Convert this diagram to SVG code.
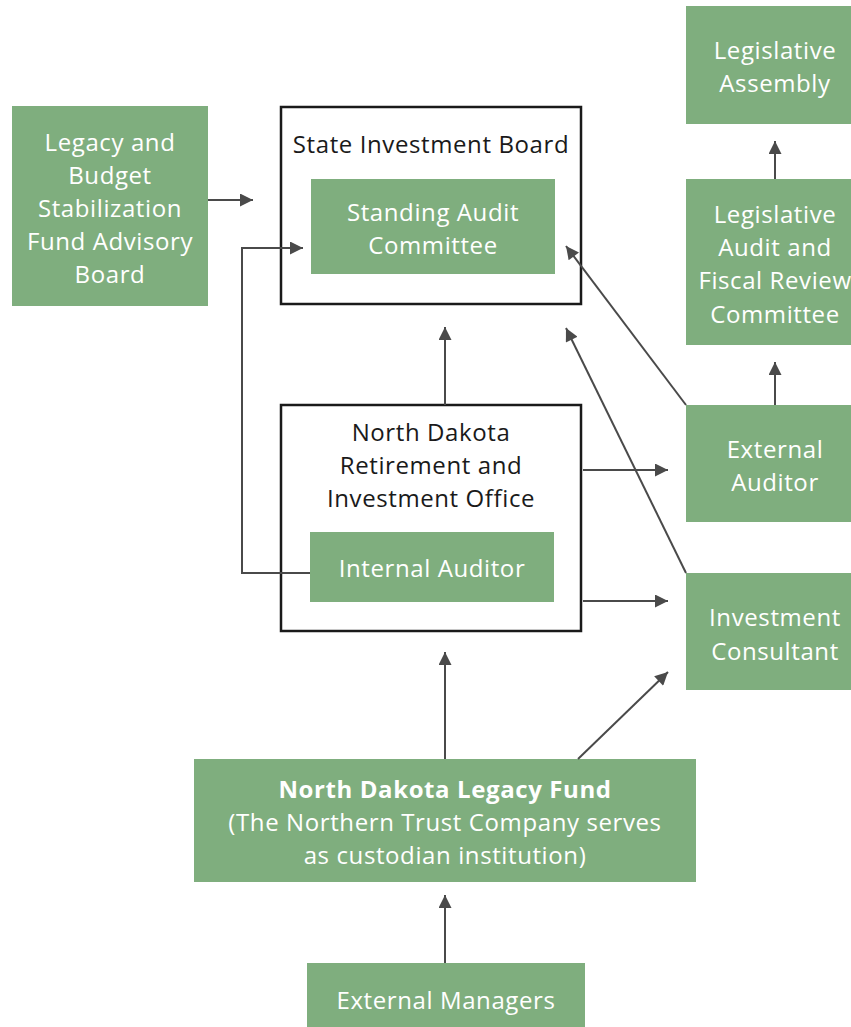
<svg xmlns="http://www.w3.org/2000/svg" width="851" height="1027" viewBox="0 0 851 1027">
<style>
.g{fill:#7fae7e}
.f{fill:#fff;stroke:#1a1a1a;stroke-width:2.5}
.t{font-family:"Open Sans","Noto Sans",sans-serif;font-size:24px;letter-spacing:0.6px;text-anchor:middle}
.w{fill:#fff}
.k{fill:#1a1a1a}
.c{fill:none;stroke:#4a4a4a;stroke-width:2;marker-end:url(#a)}
</style>
<defs>
<marker id="a" viewBox="0 0 10 10" refX="10" refY="5" markerWidth="7.5" markerHeight="6.5" markerUnits="strokeWidth" orient="auto">
<path d="M0,0 L10,5 L0,10 z" fill="#4a4a4a"/>
</marker>
</defs>
<g id="lbsfab">
<rect class="g" x="12" y="106" width="196" height="200"/>
<text class="t w" x="110"><tspan x="110" y="151">Legacy and</tspan><tspan x="110" y="184">Budget</tspan><tspan x="110" y="217">Stabilization</tspan><tspan x="110" y="250">Fund Advisory</tspan><tspan x="110" y="283">Board</tspan></text>
</g>
<g id="sib">
<rect class="f" x="281" y="107" width="300" height="197"/>
<text class="t k" x="431" y="153">State Investment Board</text>
</g>
<g id="sac">
<rect class="g" x="311" y="179" width="244" height="95"/>
<text class="t w"><tspan x="433" y="221">Standing Audit</tspan><tspan x="433" y="254">Committee</tspan></text>
</g>
<g id="la">
<rect class="g" x="686" y="6" width="165" height="118"/>
<text class="t w"><tspan x="775" y="59">Legislative</tspan><tspan x="775" y="92">Assembly</tspan></text>
</g>
<g id="lafrc">
<rect class="g" x="686" y="179" width="165" height="166"/>
<text class="t w"><tspan x="775" y="223">Legislative</tspan><tspan x="775" y="256">Audit and</tspan><tspan x="775" y="289">Fiscal Review</tspan><tspan x="775" y="323">Committee</tspan></text>
</g>
<g id="ea">
<rect class="g" x="686" y="405" width="165" height="117"/>
<text class="t w"><tspan x="775" y="458">External</tspan><tspan x="775" y="491">Auditor</tspan></text>
</g>
<g id="ic">
<rect class="g" x="686" y="573" width="165" height="117"/>
<text class="t w"><tspan x="775" y="626">Investment</tspan><tspan x="775" y="660">Consultant</tspan></text>
</g>
<g id="ndrio">
<rect class="f" x="281" y="405" width="300" height="226"/>
<text class="t k"><tspan x="431" y="441">North Dakota</tspan><tspan x="431" y="474">Retirement and</tspan><tspan x="431" y="507">Investment Office</tspan></text>
</g>
<g id="ia">
<rect class="g" x="310" y="532" width="244" height="70"/>
<text class="t w" x="432" y="577">Internal Auditor</text>
</g>
<g id="ndlf">
<rect class="g" x="194" y="759" width="502" height="123"/>
<text class="t w"><tspan x="445" y="798" font-weight="bold">North Dakota Legacy Fund</tspan><tspan x="445" y="831">(The Northern Trust Company serves</tspan><tspan x="445" y="864">as custodian institution)</tspan></text>
</g>
<g id="em">
<rect class="g" x="307" y="963" width="278" height="64"/>
<text class="t w" x="446" y="1009">External Managers</text>
</g>
<g id="connectors">
<path class="c" d="M208,200 H253"/>
<path class="c" d="M310,573 H242 V248 H303"/>
<path class="c" d="M445,405 V327"/>
<path class="c" d="M583,470 H668"/>
<path class="c" d="M583,601 H668"/>
<path class="c" d="M686,405 L566,246"/>
<path class="c" d="M686,573 L566,328"/>
<path class="c" d="M775,179 V141"/>
<path class="c" d="M775,405 V362"/>
<path class="c" d="M445,759 V652"/>
<path class="c" d="M578,759 L668,672"/>
<path class="c" d="M445,963 V895"/>
</g>
</svg>
